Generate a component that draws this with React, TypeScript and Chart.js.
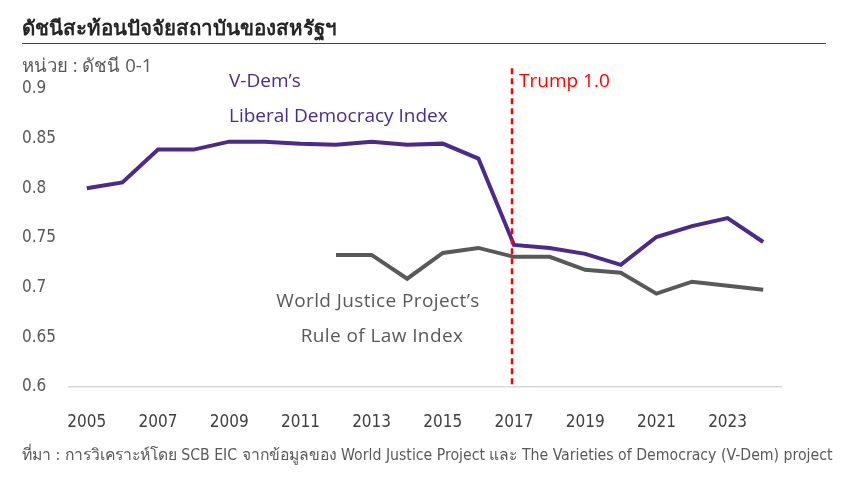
import React, { useEffect, useRef } from 'react';
import { Chart, registerables } from 'chart.js';

Chart.register(...registerables);

// years on the x axis
const years = [
  '2005', '2006', '2007', '2008', '2009', '2010', '2011', '2012', '2013', '2014',
  '2015', '2016', '2017', '2018', '2019', '2020', '2021', '2022', '2023', '2024',
];

// V-Dem Liberal Democracy Index
const vdemValues = [
  0.8, 0.806, 0.839, 0.839, 0.847, 0.847, 0.845, 0.844, 0.847, 0.844,
  0.845, 0.83, 0.743, 0.74, 0.734, 0.723, 0.751, 0.762, 0.77, 0.746,
];

// World Justice Project Rule of Law Index (starts 2012)
const wjpValues = [
  null, null, null, null, null, null, null, 0.733, 0.733, 0.709,
  0.735, 0.74, 0.731, 0.731, 0.718, 0.715, 0.694, 0.706, 0.702, 0.698,
];

const yTicks = [0.6, 0.65, 0.7, 0.75, 0.8, 0.85, 0.9];
const trumpYear = '2017';

const PURPLE = '#4b2a8c';
const GREY = '#595959';
const NUM_FONT = '"Liberation Sans Narrow", "DejaVu Sans Condensed", sans-serif';
const TEXT_FONT = '"Open Sans", "Noto Sans", sans-serif';

const trumpLine = {
  id: 'trumpLine',
  afterDatasetsDraw(chart: Chart) {
    const { ctx, scales, chartArea } = chart;
    const x = scales.x.getPixelForValue(years.indexOf(trumpYear)) - 2;
    const top = scales.y.getPixelForValue(0.921);
    ctx.save();
    ctx.strokeStyle = '#ff0000';
    ctx.lineWidth = 2.5;
    ctx.setLineDash([6, 4]);
    ctx.beginPath();
    ctx.moveTo(x, top);
    ctx.lineTo(x, chartArea.bottom);
    ctx.stroke();
    ctx.restore();
  },
};

function LineChart() {
  const canvasRef = useRef<HTMLCanvasElement>(null);

  useEffect(() => {
    if (!canvasRef.current) return;
    const chart = new Chart(canvasRef.current, {
      type: 'line',
      data: {
        labels: years,
        datasets: [
          {
            data: vdemValues,
            borderColor: PURPLE,
            borderWidth: 4,
            pointRadius: 0,
            tension: 0,
          },
          {
            data: wjpValues,
            borderColor: GREY,
            borderWidth: 4,
            pointRadius: 0,
            tension: 0,
          },
        ],
      },
      options: {
        responsive: false,
        maintainAspectRatio: false,
        animation: false,
        layout: { padding: { left: 22, right: 79, top: 89, bottom: 0 } },
        plugins: {
          legend: { display: false },
          tooltip: { enabled: false },
        },
        scales: {
          x: {
            offset: true,
            grid: { display: false, drawTicks: false },
            border: { display: true, color: '#d9d9d9', width: 1.5 },
            ticks: {
              autoSkip: false,
              maxRotation: 0,
              padding: 25,
              color: '#404040',
              font: { family: NUM_FONT, size: 17 },
              callback: (_v, i) => (i % 2 === 0 ? years[i] : ''),
            },
            afterFit: (scale) => {
              scale.height = 100;
            },
          },
          y: {
            min: 0.6,
            max: 0.9,
            grid: { display: false, drawTicks: false },
            border: { display: false },
            afterBuildTicks: (scale) => {
              scale.ticks = yTicks.map((v) => ({ value: v }));
            },
            ticks: {
              crossAlign: 'far',
              padding: 0,
              color: GREY,
              font: { family: NUM_FONT, size: 17 },
              callback: (v) => String(Number(v)),
            },
            afterFit: (scale) => {
              scale.width = 47;
            },
          },
        },
      },
      plugins: [trumpLine],
    });
    return () => chart.destroy();
  }, []);

  return <canvas ref={canvasRef} width={860} height={487} style={{ position: 'absolute', left: 0, top: 0 }} />;
}

const abs = (x: number, y: number, extra: React.CSSProperties = {}): React.CSSProperties => ({
  position: 'absolute',
  left: x,
  top: y,
  whiteSpace: 'nowrap',
  lineHeight: 1,
  ...extra,
});

const centred = (cx: number, y: number, extra: React.CSSProperties = {}): React.CSSProperties => ({
  ...abs(cx, y, extra),
  transform: 'translateX(-50%)',
});

const note: React.CSSProperties = { fontFamily: TEXT_FONT, fontSize: 19, fontWeight: 500 };

export default function App() {
  return (
    <div style={{ position: 'fixed', left: 0, top: 0, width: 860, height: 487, background: '#fff', overflow: 'hidden' }}>
      <LineChart />
      <div style={abs(22, 17, { fontFamily: TEXT_FONT, fontSize: 20.5, fontWeight: 700, color: '#262626' })}>
        ดัชนีสะท้อนปัจจัยสถาบันของสหรัฐฯ
      </div>
      <div style={{ position: 'absolute', left: 22, top: 43, width: 804, height: 1, background: '#404040' }} />
      <div style={abs(22, 56, { fontFamily: TEXT_FONT, fontSize: 18.5, color: GREY })}>หน่วย : ดัชนี 0-1</div>
      <div style={abs(229, 71, { ...note, color: PURPLE })}>V-Dem’s</div>
      <div style={abs(229, 106, { ...note, color: PURPLE })}>Liberal Democracy Index</div>
      <div style={abs(519, 71, { ...note, color: '#ff0000' })}>Trump 1.0</div>
      <div style={centred(378, 291, { ...note, color: GREY, letterSpacing: 0.4 })}>World Justice Project’s</div>
      <div style={centred(382, 326, { ...note, color: GREY, letterSpacing: 0.4 })}>Rule of Law Index</div>
      <div style={abs(22, 447, { fontFamily: NUM_FONT, fontSize: 15.7, color: GREY })}>
        ที่มา : การวิเคราะห์โดย SCB EIC จากข้อมูลของ World Justice Project และ The Varieties of Democracy (V-Dem) project
      </div>
    </div>
  );
}
